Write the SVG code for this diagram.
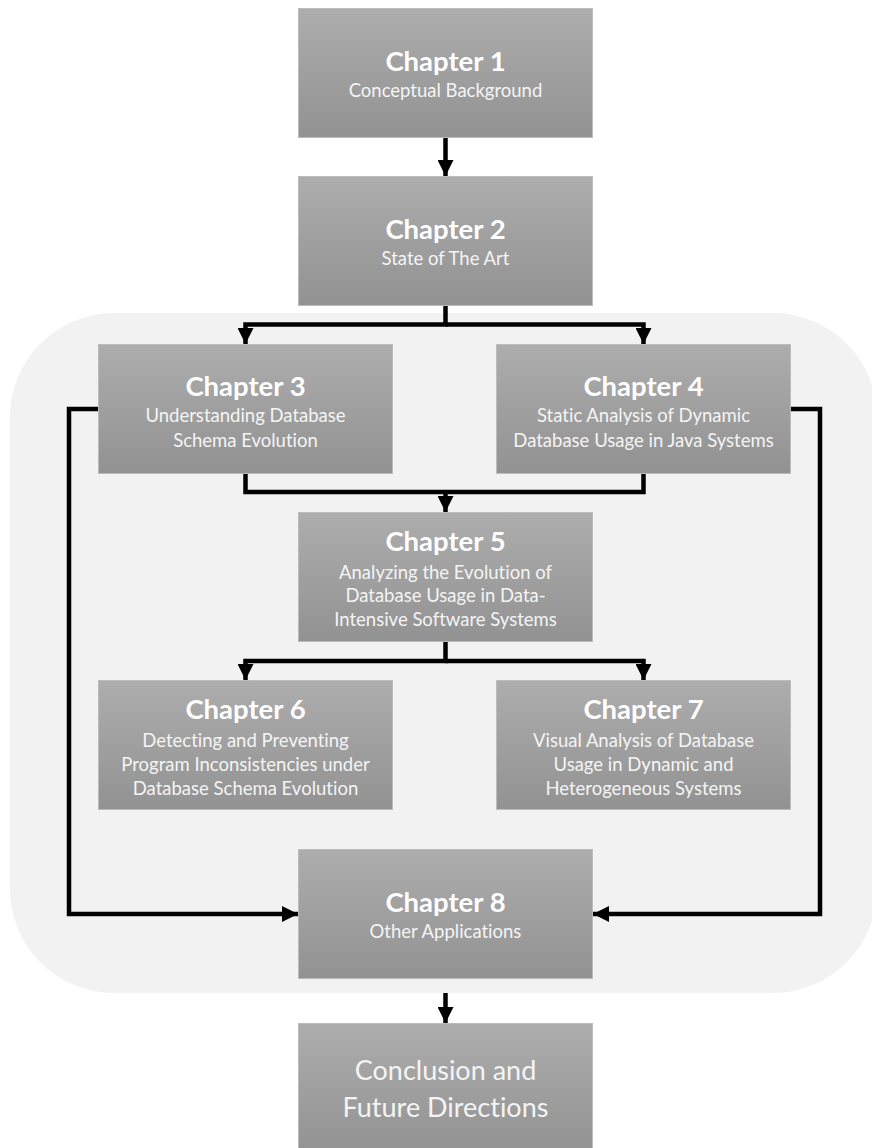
<svg xmlns="http://www.w3.org/2000/svg" width="872" height="1148" viewBox="0 0 872 1148">
<defs>
<linearGradient id="g" x1="0" y1="0" x2="0" y2="1">
<stop offset="0" stop-color="#adadad"/>
<stop offset="1" stop-color="#929292"/>
</linearGradient>
<marker id="ah" markerUnits="userSpaceOnUse" markerWidth="16" markerHeight="16" viewBox="0 0 14 14" refX="14" refY="7" orient="auto">
<path d="M0,0 L14,7 L0,14 Z" fill="#000"/>
</marker>
<style>
.box{fill:url(#g);stroke:#bcbcbc;stroke-width:1}
text{font-variant-ligatures:none}
.h{font-family:Lato,"Open Sans",sans-serif;font-weight:bold;font-size:27.5px;fill:#ffffff;text-anchor:middle}
.s{font-family:Lato,"Open Sans",sans-serif;font-size:18.5px;fill:#f4f4f4;text-anchor:middle}
.c{font-family:Lato,"Open Sans",sans-serif;font-size:27px;fill:#f4f4f4;text-anchor:middle}
.ln{fill:none;stroke:#000;stroke-width:4.5;stroke-linejoin:miter;stroke-linecap:butt}
.ar{marker-end:url(#ah)}
</style>
</defs>
<rect x="10" y="313" width="867" height="680" rx="104" ry="104" fill="#f2f2f2"/>
<g id="connectors">
<path class="ln ar" d="M445.5 137 V176"/>
<path class="ln ar" d="M445.5 305 V324.5 H245.5 V344"/>
<path class="ln ar" d="M445.5 324.5 H643.5 V344"/>
<path class="ln" d="M245.5 474 V492 H643.5 V474"/>
<path class="ln ar" d="M445.5 492 V512"/>
<path class="ln ar" d="M445.5 642 V661 H245.5 V680"/>
<path class="ln ar" d="M445.5 661 H643.5 V680"/>
<path class="ln ar" d="M98 409 H69 V914 H298"/>
<path class="ln ar" d="M791 409 H820 V914 H593"/>
<path class="ln ar" d="M445.5 993 V1023"/>
</g>
<g id="ch1">
<rect class="box" x="298.5" y="8.5" width="294" height="129"/>
<text class="h" x="445.5" y="71">Chapter 1</text>
<text class="s" x="445.5" y="97">Conceptual Background</text>
</g>
<g id="ch2">
<rect class="box" x="298.5" y="176.5" width="294" height="129"/>
<text class="h" x="445.5" y="239">Chapter 2</text>
<text class="s" x="445.5" y="265">State of The Art</text>
</g>
<g id="ch3">
<rect class="box" x="98.5" y="344.5" width="294" height="129"/>
<text class="h" x="245.5" y="396">Chapter 3</text>
<text class="s" x="245.5" y="422">Understanding Database</text>
<text class="s" x="245.5" y="447">Schema Evolution</text>
</g>
<g id="ch4">
<rect class="box" x="496.5" y="344.5" width="294" height="129"/>
<text class="h" x="643.5" y="396">Chapter 4</text>
<text class="s" x="643.5" y="422">Static Analysis of Dynamic</text>
<text class="s" x="643.5" y="447">Database Usage in Java Systems</text>
</g>
<g id="ch5">
<rect class="box" x="298.5" y="512.5" width="294" height="129"/>
<text class="h" x="445.5" y="551">Chapter 5</text>
<text class="s" x="445.5" y="579">Analyzing the Evolution of</text>
<text class="s" x="445.5" y="602">Database Usage in Data-</text>
<text class="s" x="445.5" y="626">Intensive Software Systems</text>
</g>
<g id="ch6">
<rect class="box" x="98.5" y="680.5" width="294" height="129"/>
<text class="h" x="245.5" y="719">Chapter 6</text>
<text class="s" x="245.5" y="747">Detecting and Preventing</text>
<text class="s" x="245.5" y="771">Program Inconsistencies under</text>
<text class="s" x="245.5" y="795">Database Schema Evolution</text>
</g>
<g id="ch7">
<rect class="box" x="496.5" y="680.5" width="294" height="129"/>
<text class="h" x="643.5" y="719">Chapter 7</text>
<text class="s" x="643.5" y="747">Visual Analysis of Database</text>
<text class="s" x="643.5" y="771">Usage in Dynamic and</text>
<text class="s" x="643.5" y="795">Heterogeneous Systems</text>
</g>
<g id="ch8">
<rect class="box" x="298.5" y="849.5" width="294" height="129"/>
<text class="h" x="445.5" y="912">Chapter 8</text>
<text class="s" x="445.5" y="938">Other Applications</text>
</g>
<g id="conclusion">
<rect class="box" x="298.5" y="1023.5" width="294" height="130"/>
<text class="c" x="445.5" y="1080">Conclusion and</text>
<text class="c" x="445.5" y="1117">Future Directions</text>
</g>
</svg>
